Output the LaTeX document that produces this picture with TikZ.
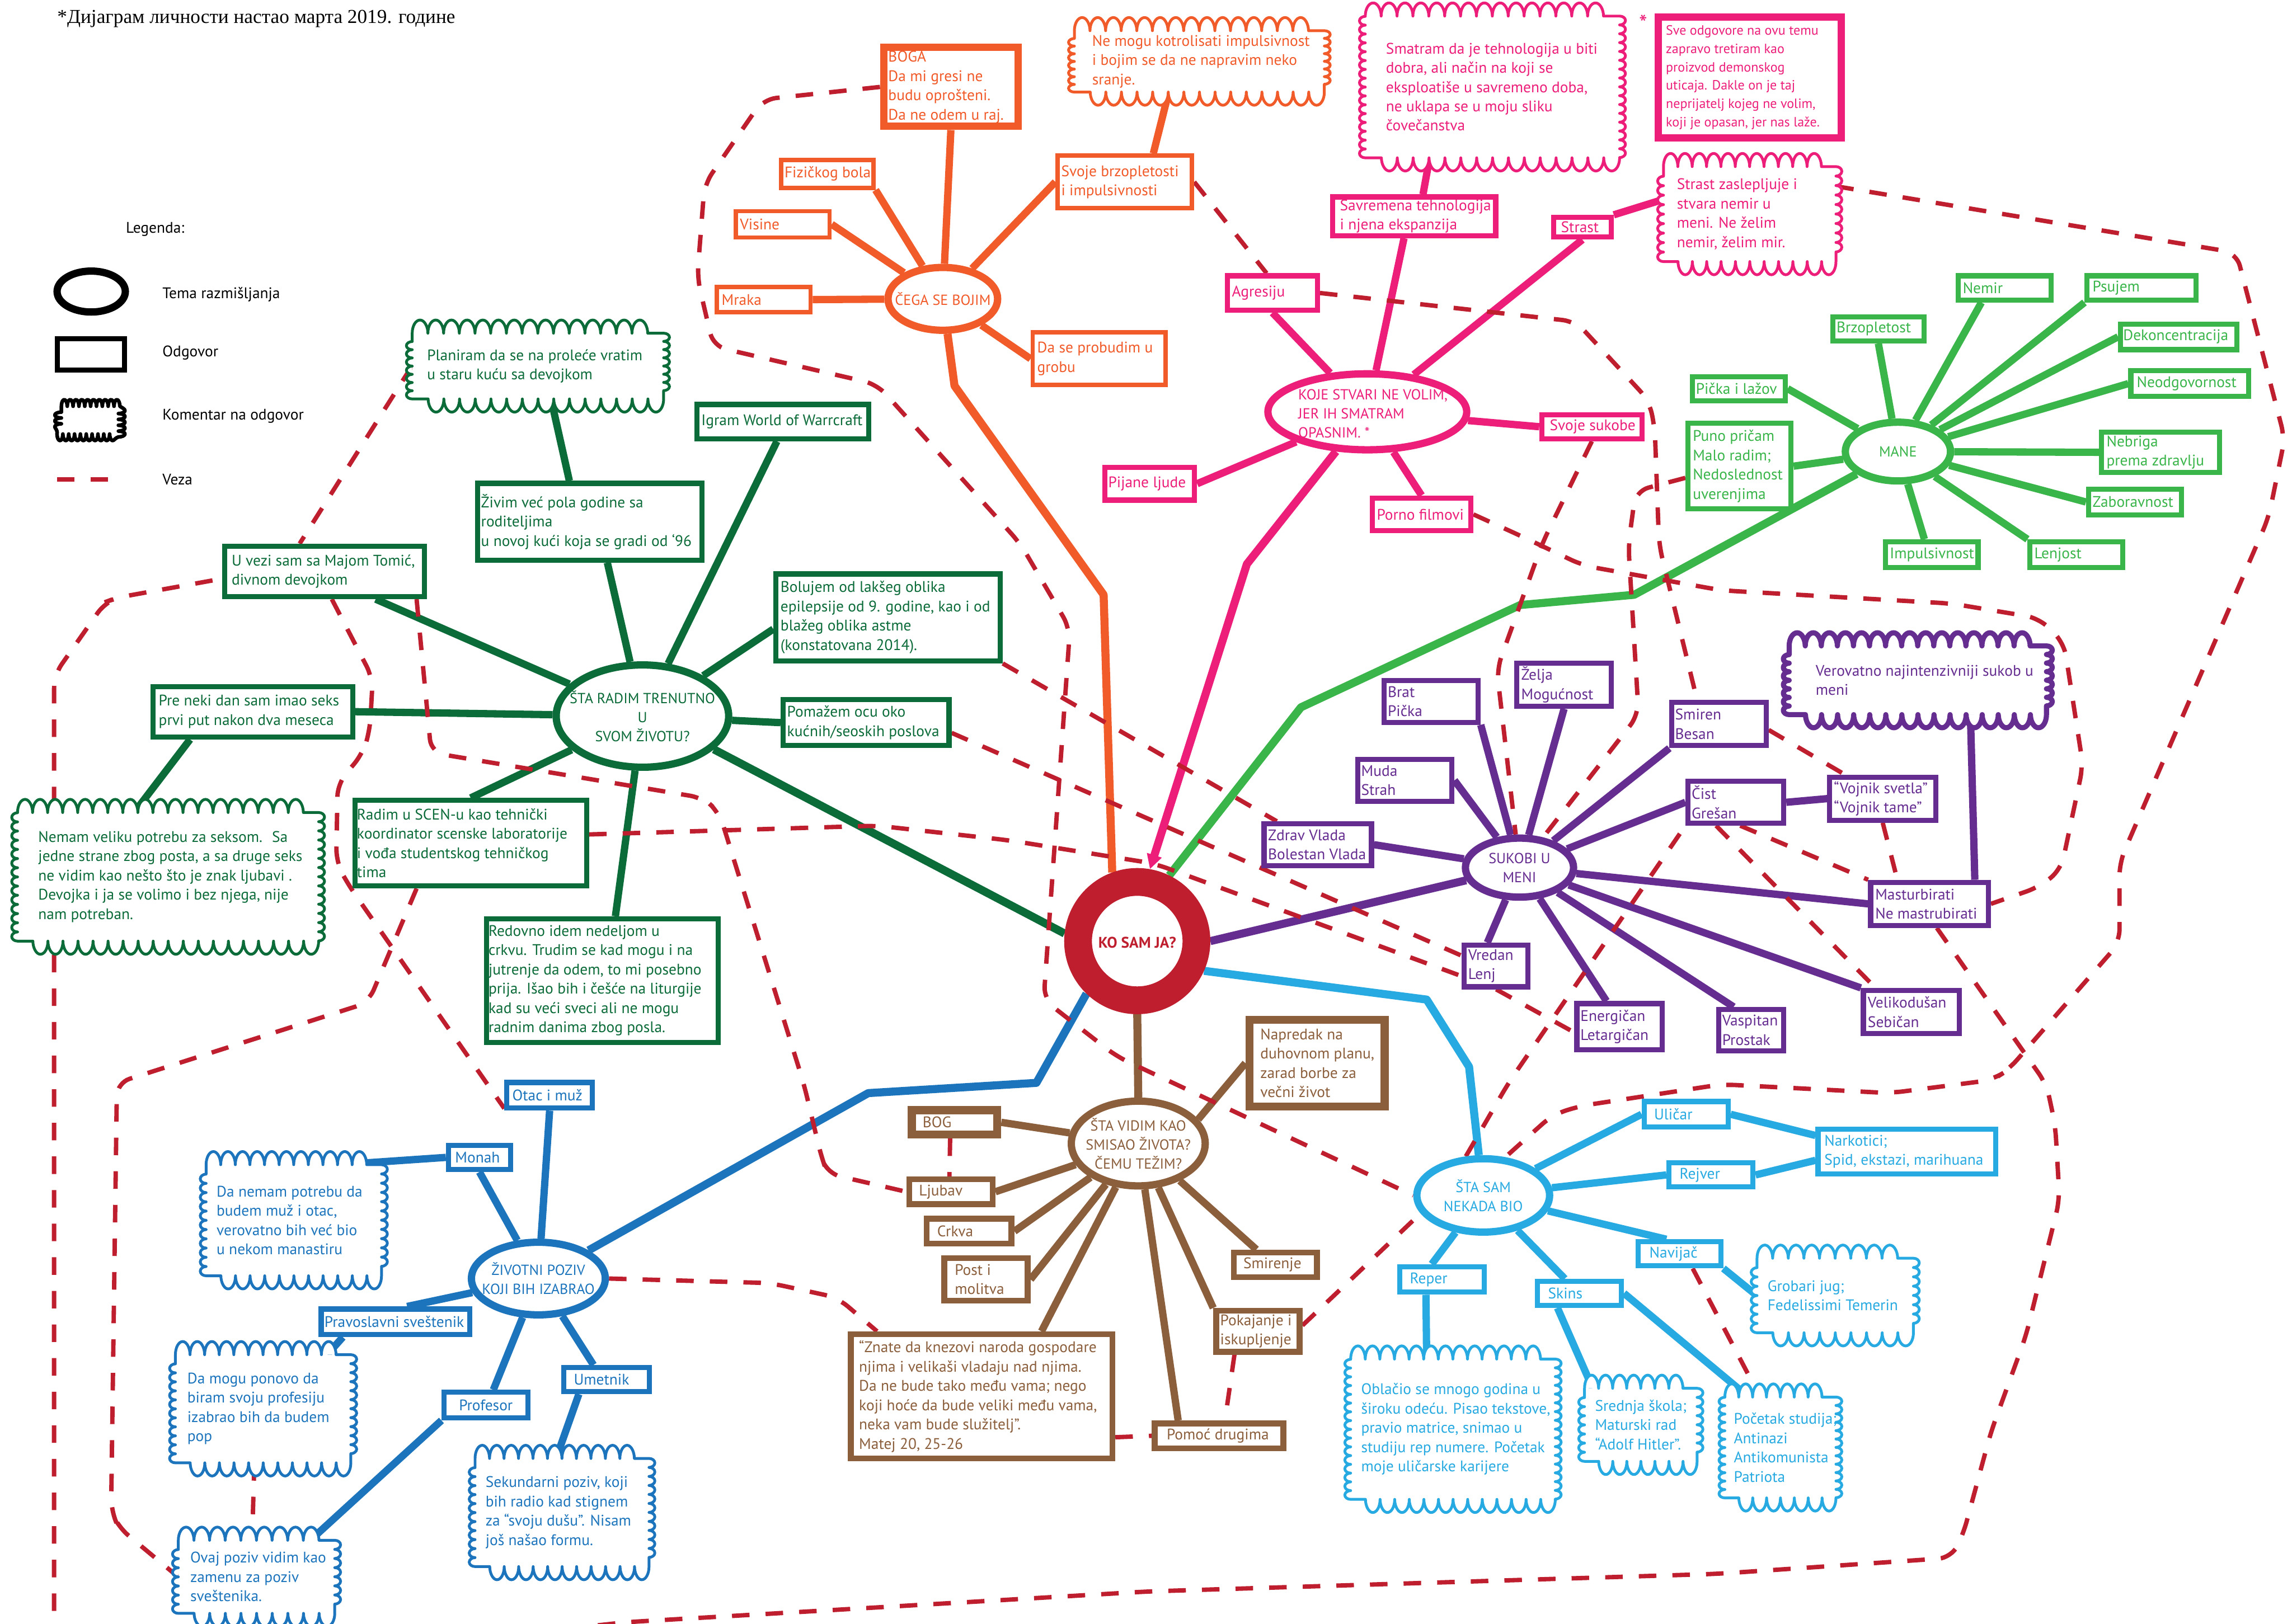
\documentclass[tikz,border=0pt]{standalone}
\usepackage{fontspec}
\setmainfont{PT Sans}
\newfontfamily\tms{Liberation Serif}
\usetikzlibrary{shapes.geometric,decorations.pathmorphing,arrows.meta}
\definecolor{kored}{HTML}{BE1E2D}
\definecolor{cOr}{HTML}{F15A29}
\definecolor{cPk}{HTML}{EC1E79}
\definecolor{cGl}{HTML}{39B54A}
\definecolor{cGd}{HTML}{0B6B39}
\definecolor{cPu}{HTML}{662D91}
\definecolor{cCy}{HTML}{27AAE1}
\definecolor{cBl}{HTML}{1C75BC}
\definecolor{cBr}{HTML}{8B5E3C}
\pgfdeclarelayer{bg}
\pgfsetlayers{bg,main}
\newcommand\tf{\fontsize{10.5}{13.2}\selectfont}
\newcommand\ef{\fontsize{10}{13}\selectfont}
\tikzset{
  txt/.style={text=#1, align=left, inner sep=0pt, font=\tf},
  cn/.style={draw=#1, line width=5pt},
  mb/.style={draw=#1, line width=5.5pt, line join=round},
  veza/.style={draw=kored, line width=3pt, dash pattern=on 12pt off 11pt, rounded corners=9pt},
}
% box: name,color,lw,x1,y1,x2,y2,padleft,text
\newcommand\bx[9]{%
  \node[draw=#2, fill=white, line width=#3pt, inner sep=0pt, minimum width={#6-#4-#3}, minimum height={#7-#5-#3}] (#1) at ({(#4+#6)/2},{(#5+#7)/2}) {};
  \node[txt=#2, anchor=west] (#1t) at ({#4+#8},{(#5+#7)/2}) {#9};}
% ellipse: name,color,cx,cy,rx,ry,text
\newcommand\el[7]{%
  \node[ellipse, draw=#2, fill=white, line width=5pt, inner sep=0pt, minimum width={2*#5-5}, minimum height={2*#6-5}] (#1) at (#3,#4) {};
  \node[txt=#2, align=center, font=\ef] (#1t) at (#3,#4) {#7};}
% cloud: [lw] name,color,x1,y1,x2,y2,textleft,text
\newcommand\cld[9][1.9]{%
  \pgfmathsetmacro\cw{#6-#4-8}\pgfmathsetmacro\ch{#7-#5-18}%
  \pgfmathsetmacro\sT{\cw/max(1,round(\cw/21))-0.02}%
  \pgfmathsetmacro\sS{\ch/max(1,round(\ch/12))-0.02}%
  \fill[white] ({#4+4},{#5+9}) rectangle ({#6-4},{#7-9});
  \path[draw=#3, fill=white, line width=#1pt, line cap=round, line join=round]
    decorate[decoration={bumps,segment length=\sT pt,amplitude=9pt}]{({#4+4},{#5+9}) -- ({#6-4},{#5+9})}
    decorate[decoration={bumps,segment length=\sS pt,amplitude=4pt}]{({#6-4},{#5+9}) -- ({#6-4},{#7-9})}
    decorate[decoration={bumps,segment length=\sT pt,amplitude=9pt}]{({#6-4},{#7-9}) -- ({#4+4},{#7-9})}
    decorate[decoration={bumps,segment length=\sS pt,amplitude=4pt}]{({#4+4},{#7-9}) -- ({#4+4},{#5+9})};
  \node[inner sep=0pt, minimum width={\cw}, minimum height={\ch}] (#2) at ({(#4+#6)/2},{(#5+#7)/2}) {};
  \node[txt=#3, anchor=west] (#2t) at (#8,{(#5+#7)/2}) {#9};}

\begin{document}
\begin{tikzpicture}[x=1pt,y=-1pt]
\useasboundingbox (0,0) rectangle (1568,1111);

% ---------- title & legend ----------
\node[anchor=west, inner sep=0pt, font=\tms\fontsize{13.5}{15}\selectfont] (title) at (39,13) {*Дијаграм личности настао марта 2019. године};
\node[txt=black, anchor=west] (leg) at (86,157) {Legenda:};
\node[ellipse, draw=black, line width=5pt, fill=white, minimum width=46.7, minimum height=28, inner sep=0pt] (legel) at (62.4,199.5) {};
\node[txt=black, anchor=west] (legelt) at (111,201.5) {Tema razmišljanja};
\node[draw=black, line width=3.5pt, fill=white, minimum width=46.2, minimum height=21.5, inner sep=0pt] (legbx) at (62.2,242.5) {};
\node[txt=black, anchor=west] (legbxt) at (111,241.5) {Odgovor};
\path[draw=black, fill=white, line width=2.5pt, line join=round, decorate, decoration={bumps, segment length=8pt, amplitude=4.5pt}]
  (42,278) -- (81,278) -- (81,297) -- (42,297) -- cycle;
\node[txt=black, anchor=west] (legclt) at (111,284.6) {Komentar na odgovor};
\coordinate (lega) at (39,328); \coordinate (legb) at (75,328);
\draw[veza] (lega) -- (legb);
\node[txt=black, anchor=west] (legvt) at (111,328) {Veza};

% ---------- center ----------
\node[circle, draw=kored, line width=19pt, fill=white, minimum size=81pt, inner sep=0pt] (ko) at (778,644) {};
\node[text=kored, inner sep=0pt, font=\bfseries\fontsize{10.5}{12}\selectfont] (kot) at (778,645) {KO SAM JA?};

% ---------- orange ----------
\el{cega}{cOr}{645}{204.5}{40}{24}{ČEGA SE BOJIM}
\bx{boga}{cOr}{5}{602}{30}{699}{89}{5.5}{BOGA\\Da mi gresi ne\\budu oprošteni.\\Da ne odem u raj.}
\bx{fiz}{cOr}{3}{533}{108}{599}{130}{3.5}{Fizičkog bola}
\bx{vis}{cOr}{3}{502}{143}{569}{164}{4}{Visine}
\bx{mra}{cOr}{3}{489}{195}{556}{215}{4.5}{Mraka}
\bx{brz}{cOr}{3}{722}{105}{817}{144}{3.8}{Svoje brzopletosti\\i impulsivnosti}
\bx{pro}{cOr}{3}{705}{226}{799}{265}{4.4}{Da se probudim u\\grobu}
\cld{nemogu}{cOr}{731}{12}{910}{72}{747}{Ne mogu kotrolisati impulsivnost\\i bojim se da ne napravim neko\\sranje.}

% ---------- pink ----------
\node[ellipse, draw=cPk, fill=white, line width=5pt, inner sep=0pt, minimum width=136, minimum height=52] (koje) at (935.4,281.8) {};
\node[txt=cPk, anchor=west, font=\ef] (kojet) at (888,283) {KOJE STVARI NE VOLIM,\\JER IH SMATRAM\\OPASNIM. *};
\bx{sav}{cPk}{3.5}{910}{133}{1025}{163}{6.5}{Savremena tehnologija\\i njena ekspanzija}
\bx{strast}{cPk}{3.5}{1061}{147}{1104}{164}{6.7}{Strast}
\bx{agr}{cPk}{3.5}{838}{187}{903}{214}{4.6}{Agresiju}
\bx{pij}{cPk}{3.5}{754}{318}{819}{344}{4}{Pijane ljude}
\bx{sukobe}{cPk}{3.5}{1053}{282}{1125}{302}{7}{Svoje sukobe}
\bx{porno}{cPk}{3.5}{937}{339}{1008}{365}{4.7}{Porno filmovi}
\node[draw=cPk, fill=white, line width=5pt, inner sep=0pt, minimum width=125, minimum height=83] (sve) at (1197,53) {};
\node[txt=cPk, anchor=west, font=\fontsize{9.2}{12.6}\selectfont] (svet) at (1139.5,53) {Sve odgovore na ovu temu\\zapravo tretiram kao\\proizvod demonskog\\uticaja. Dakle on je taj\\neprijatelj kojeg ne volim,\\koji je opasan, jer nas laže.};
\node[text=cPk, inner sep=0pt, font=\fontsize{16}{16}\selectfont] (ast) at (1124.4,16) {*};
\cld{smatram}{cPk}{930}{2}{1112}{117}{948}{Smatram da je tehnologija u biti\\dobra, ali način na koji se\\eksploatiše u savremeno doba,\\ne uklapa se u moju sliku\\čovečanstva}
\cld{strastc}{cPk}{1134}{105}{1260}{188}{1147}{Strast zaslepljuje i\\stvara nemir u\\meni. Ne želim\\nemir, želim mir.}

% ---------- light green ----------
\el{mane}{cGl}{1298.4}{309}{38.5}{22.6}{MANE}
\bx{nemir}{cGl}{3.5}{1338}{187}{1405}{207}{4.6}{Nemir}
\bx{psujem}{cGl}{3.5}{1426}{187}{1504}{207}{5.4}{Psujem}
\bx{brzop}{cGl}{3.5}{1252}{215}{1318}{235}{4.2}{Brzopletost}
\bx{dekon}{cGl}{3.5}{1449}{220}{1532}{241}{3.3}{Dekoncentracija}
\bx{neodg}{cGl}{3.5}{1456}{252}{1540}{273}{5.6}{Neodgovornost}
\bx{nebriga}{cGl}{3.5}{1436}{294}{1520}{325}{4.9}{Nebriga\\prema zdravlju}
\bx{zabor}{cGl}{3.5}{1427}{333}{1494}{354}{4.4}{Zaboravnost}
\bx{lenjost}{cGl}{3.5}{1387}{369}{1454}{390}{4.5}{Lenjost}
\bx{impuls}{cGl}{3.5}{1288}{369}{1355}{390}{4.7}{Impulsivnost}
\bx{picka}{cGl}{3.5}{1156}{256}{1223}{276}{4}{Pička i lažov}
\bx{puno}{cGl}{3.5}{1153}{288}{1227}{350}{4.9}{Puno pričam\\Malo radim;\\Nedoslednost\\uverenjima}

% ---------- dark green ----------
\el{stara}{cGd}{439.5}{490}{61.5}{37.5}{ŠTA RADIM TRENUTNO\\U\\SVOM ŽIVOTU?}
\bx{igram}{cGd}{3.5}{475}{275}{596}{302}{4.6}{Igram World of Warrcraft}
\bx{zivim}{cGd}{3.5}{325}{329}{482}{385}{3.9}{Živim već pola godine sa\\roditeljima\\u novoj kući koja se gradi od ‘96}
\bx{bolujem}{cGd}{3.5}{529}{391}{686}{454}{4.8}{Bolujem od lakšeg oblika\\epilepsije od 9. godine, kao i od\\blažeg oblika astme\\(konstatovana 2014).}
\bx{pomazem}{cGd}{3.5}{534}{477}{651}{512}{4.3}{Pomažem ocu oko\\kućnih/seoskih poslova}
\bx{uvezi}{cGd}{3.5}{152}{372}{292}{410}{6.3}{U vezi sam sa Majom Tomić,\\divnom devojkom}
\bx{preneki}{cGd}{3.5}{103}{468}{243}{506}{5.4}{Pre neki dan sam imao seks\\prvi put nakon dva meseca}
\bx{radim}{cGd}{3.5}{241}{546}{403}{608}{3}{Radim u SCEN-u kao tehnički\\koordinator scenske laboratorije\\i vođa studentskog tehničkog\\tima}
\bx{redovno}{cGd}{3.5}{331}{627}{493}{715}{3}{Redovno idem nedeljom u\\crkvu. Trudim se kad mogu i na\\jutrenje da odem, to mi posebno\\prija. Išao bih i češće na liturgije\\kad su veći sveci ali ne mogu\\radnim danima zbog posla.}
\cld{planiram}{cGd}{278}{219}{458}{282}{292}{Planiram da se na proleće vratim\\u staru kuću sa devojkom}
\cld{nemam}{cGd}{8}{547}{222}{653}{26}{Nemam veliku potrebu za seksom.~ Sa\\jedne strane zbog posta, a sa druge seks\\ne vidim kao nešto što je znak ljubavi .\\Devojka i ja se volimo i bez njega, nije\\nam potreban.}

% ---------- purple ----------
\el{sukobi}{cPu}{1039.5}{593.7}{39.5}{22.7}{SUKOBI U\\MENI}
\bx{brat}{cPu}{3.5}{945}{464}{1013}{496}{4.2}{Brat\\Pička}
\bx{zelja}{cPu}{3.5}{1036}{452}{1104}{485}{4.5}{Želja\\Mogućnost}
\bx{muda}{cPu}{3.5}{927}{518}{995}{550}{4}{Muda\\Strah}
\bx{zdrav}{cPu}{3.5}{863}{562}{940}{594}{4.3}{Zdrav Vlada\\Bolestan Vlada}
\bx{vredan}{cPu}{3.5}{1000}{645}{1047}{677}{4.2}{Vredan\\Lenj}
\bx{energ}{cPu}{3.5}{1077}{685}{1139}{720}{4}{Energičan\\Letargičan}
\bx{vaspitan}{cPu}{3.5}{1174}{689}{1222}{721}{4}{Vaspitan\\Prostak}
\bx{veliko}{cPu}{3.5}{1273}{676}{1342}{709}{4.6}{Velikodušan\\Sebičan}
\bx{mastur}{cPu}{3.5}{1278}{602}{1362}{635}{4.7}{Masturbirati\\Ne mastrubirati}
\bx{smiren}{cPu}{3.5}{1142}{479}{1210}{512}{3.8}{Smiren\\Besan}
\bx{cist}{cPu}{3.5}{1153}{533}{1222}{565}{4.1}{Čist\\Grešan}
\bx{vojnik}{cPu}{3.5}{1250}{530}{1326}{563}{4.4}{“Vojnik svetla”\\“Vojnik tame”}
\cld[3.5]{verovatno}{cPu}{1220}{433}{1404}{498}{1242}{Verovatno najintenzivniji sukob u\\meni}

% ---------- cyan ----------
\el{stasam}{cCy}{1014.7}{818}{47.9}{27.6}{ŠTA SAM\\NEKADA BIO}
\bx{ulicar}{cCy}{3.5}{1123}{752}{1184}{773}{8.4}{Uličar}
\bx{rejver}{cCy}{3.5}{1140}{794}{1201}{814}{8.8}{Rejver}
\bx{navijac}{cCy}{3.5}{1119}{848}{1179}{868}{9.2}{Navijač}
\bx{reper}{cCy}{3.5}{956}{865}{1017}{886}{8.3}{Reper}
\bx{skins}{cCy}{3.5}{1050}{875}{1111}{895}{8.9}{Skins}
\bx{nark}{cCy}{3.5}{1242}{771}{1367}{805}{5.9}{Narkotici;\\Spid, ekstazi, marihuana}
\cld{grobari}{cCy}{1198}{852}{1313}{921}{1209}{Grobari jug;\\Fedelissimi Temerin}
\cld{oblacio}{cCy}{920}{921}{1068}{1035}{931}{Oblačio se mnogo godina u\\široku odeću. Pisao tekstove,\\pravio matrice, snimao u\\studiju rep numere. Početak\\moje uličarske karijere}
\cld{srednja}{cCy}{1080}{941}{1165}{1009}{1091}{Srednja škola;\\Maturski rad\\“Adolf Hitler”.}
\cld{pocetak}{cCy}{1176}{947}{1260}{1034}{1186}{Početak studija;\\Antinazi\\Antikomunista\\Patriota}

% ---------- blue ----------
\el{zivot}{cBl}{368.3}{874.9}{48.3}{27.35}{ŽIVOTNI POZIV\\KOJI BIH IZABRAO}
\bx{otac}{cBl}{3.5}{345}{739}{407}{760}{5.3}{Otac i muž}
\bx{monah}{cBl}{3.5}{305}{782}{351}{802}{6.2}{Monah}
\bx{prav}{cBl}{3.5}{218}{894}{323}{915}{3.8}{Pravoslavni sveštenik}
\bx{prof}{cBl}{3.5}{302}{951}{363}{972}{11.8}{Profesor}
\bx{umet}{cBl}{3.5}{384}{934}{446}{954}{8.4}{Umetnik}
\cld{danemam}{cBl}{137}{788}{265}{882}{148}{Da nemam potrebu da\\budem muž i otac,\\verovatno bih već bio\\u nekom manastiru}
\cld{damogu}{cBl}{116}{918}{244}{1010}{128}{Da mogu ponovo da\\biram svoju profesiju\\izabrao bih da budem\\pop}
\cld{ovaj}{cBl}{118}{1045}{233}{1113}{130}{Ovaj poziv vidim kao\\zamenu za poziv\\sveštenika.}
\cld{sekund}{cBl}{321}{989}{448}{1081}{332}{Sekundarni poziv, koji\\bih radio kad stignem\\za “svoju dušu”. Nisam\\još našao formu.}

% ---------- brown ----------
\el{stavid}{cBr}{778.7}{782.5}{48.3}{31.5}{ŠTA VIDIM KAO\\SMISAO ŽIVOTA?\\ČEMU TEŽIM?}
\bx{napredak}{cBr}{5.5}{852}{695}{950}{760}{10}{Napredak na\\duhovnom planu,\\zarad borbe za\\večni život}
\bx{bog}{cBr}{5.5}{621}{757}{685}{779}{10}{BOG}
\bx{ljubav}{cBr}{4}{620}{805}{681}{826}{8.5}{Ljubav}
\bx{crkva}{cBr}{4}{632}{832}{694}{853}{9}{Crkva}
\bx{post}{cBr}{4}{644}{859}{705}{892}{9}{Post i\\molitva}
\bx{quote}{cBr}{4}{580}{911}{763}{1000}{7.5}{“Znate da knezovi naroda gospodare\\njima i velikaši vladaju nad njima.\\Da ne bude tako među vama; nego\\koji hoće da bude veliki među vama,\\neka vam bude služitelj”.\\Matej 20, 25-26}
\bx{pomoc}{cBr}{4}{788}{972}{880}{993}{10}{Pomoć drugima}
\bx{pokaj}{cBr}{4}{830}{895}{891}{927}{4.6}{Pokajanje i\\iskupljenje}
\bx{smirenje}{cBr}{4}{842}{855}{903}{876}{8.4}{Smirenje}

% ================= connectors (background) =================
\begin{pgfonlayer}{bg}
\fill[white] (0,0) rectangle (1568,1111);
\clip (0,0) rectangle (1568,1111);
% main branches
\draw[mb=cOr] (cega) -- (653,264) -- (755,407) -- (ko.110);
\draw[mb=cPk, -{Triangle[length=10pt,width=10pt]}] (koje) -- (853,386) -- (ko.80);
\draw[mb=cGl] (mane) -- (1118,407) -- (1040,414) -- (890,484) -- (ko.64);
\draw[mb=cGd] (stara.-25) -- (ko.174);
\draw[mb=cPu] (ko.0) -- (sukobi);
\draw[mb=cCy] (ko.-24) -- (976,684) -- (1005,730) -- (stasam);
\draw[mb=cBl] (ko.-134) -- (709,741) -- (594,748) -- (zivot);
\draw[mb=cBr] (ko.south) -- (stavid.north);
% orange
\draw[cn=cOr] (boga.south) -- (cega);
\draw[cn=cOr] (fiz.south east) -- (cega);
\draw[cn=cOr] (vis.east) -- (cega);
\draw[cn=cOr] (mra.east) -- (cega);
\draw[cn=cOr] (brz.west) -- (cega);
\draw[cn=cOr] (pro.west) -- (cega);
\draw[cn=cOr] (brz.45) -- ([xshift=-21pt]nemogu.south);
% pink
\draw[cn=cPk] ([xshift=-7pt]sav.south) -- (koje);
\draw[cn=cPk] ([xshift=6pt]sav.north) -- ([xshift=-43pt]smatram.south);
\draw[cn=cPk] (strast.south) -- (koje);
\draw[cn=cPk] (strast.north east) -- ([yshift=10pt]strastc.west);
\draw[cn=cPk] (agr.south) -- (koje);
\draw[cn=cPk] (pij.east) -- (koje);
\draw[cn=cPk] (koje) -- (sukobe.west);
\draw[cn=cPk] (porno.north) -- (koje);
% light green
\draw[cn=cGl] ([xshift=-16pt]nemir.south) -- (mane);
\draw[cn=cGl] (psujem.south west) -- (mane);
\draw[cn=cGl] (brzop.south) -- (mane);
\draw[cn=cGl] (dekon.west) -- (mane);
\draw[cn=cGl] (neodg.west) -- (mane);
\draw[cn=cGl] (nebriga.west) -- (mane);
\draw[cn=cGl] (zabor.west) -- (mane);
\draw[cn=cGl] (lenjost.north west) -- (mane);
\draw[cn=cGl] ([xshift=-5pt]impuls.north) -- (mane);
\draw[cn=cGl] (picka.east) -- (mane);
\draw[cn=cGl] (puno.east) -- (mane);
% dark green
\draw[cn=cGd] ([xshift=-4pt]igram.south) -- (stara);
\draw[cn=cGd] ([xshift=12pt]zivim.south) -- (stara);
\draw[cn=cGd] ([xshift=9pt]planiram.south) -- ([xshift=-14pt]zivim.north);
\draw[cn=cGd] ([yshift=-8pt]bolujem.west) -- (stara);
\draw[cn=cGd] (pomazem.west) -- (stara);
\draw[cn=cGd] ([xshift=35pt]uvezi.south) -- (stara);
\draw[cn=cGd] (preneki.east) -- (stara);
\draw[cn=cGd] ([xshift=-43pt]preneki.south) -- ([xshift=-23pt]nemam.north);
\draw[cn=cGd] (radim.north) -- (stara);
\draw[cn=cGd] ([xshift=9pt]redovno.north) -- (stara);
% purple
\draw[cn=cPu] (brat.south east) -- (sukobi);
\draw[cn=cPu] (zelja.south) -- (sukobi);
\draw[cn=cPu] (muda.east) -- (sukobi);
\draw[cn=cPu] (zdrav.east) -- (sukobi);
\draw[cn=cPu] ([xshift=-6pt]vredan.north) -- (sukobi);
\draw[cn=cPu] ([xshift=-9pt]energ.north) -- (sukobi);
\draw[cn=cPu] ([xshift=-12pt]vaspitan.north) -- (sukobi);
\draw[cn=cPu] (veliko.north west) -- (sukobi);
\draw[cn=cPu] (mastur.west) -- (sukobi);
\draw[cn=cPu] (smiren.south west) -- (sukobi);
\draw[cn=cPu] (cist.west) -- (sukobi);
\draw[cn=cPu] (cist.east) -- (vojnik.west);
\draw[cn=cPu] ([xshift=36pt]verovatno.south) -- ([xshift=31pt]mastur.north);
% cyan
\draw[cn=cCy] (stasam) -- (ulicar.west);
\draw[cn=cCy] (stasam) -- (rejver.west);
\draw[cn=cCy] (stasam) -- ([xshift=-9pt]navijac.north);
\draw[cn=cCy] (stasam) -- ([xshift=-7pt]reper.north);
\draw[cn=cCy] (stasam) -- ([xshift=-10pt]skins.north);
\draw[cn=cCy] (ulicar.east) -- ([yshift=11pt]nark.west);
\draw[cn=cCy] (rejver.east) -- ([yshift=-6pt]nark.west);
\draw[cn=cCy] (navijac.south east) -- (grobari.west);
\draw[cn=cCy] ([xshift=-11pt]reper.south) -- ([xshift=-18pt]oblacio.north);
\draw[cn=cCy] ([xshift=-15pt]skins.south) -- ([xshift=-33pt]srednja.north);
\draw[cn=cCy] (skins.east) -- ([xshift=-22pt]pocetak.north);
% blue
\draw[cn=cBl] (otac.south) -- (zivot);
\draw[cn=cBl] (monah.south) -- (zivot);
\draw[cn=cBl] (monah.west) -- ([xshift=34pt]danemam.north);
\draw[cn=cBl] ([xshift=8pt]prav.north) -- (zivot);
\draw[cn=cBl] ([xshift=-36pt]prav.south) -- ([xshift=44pt]damogu.north);
\draw[cn=cBl] ([xshift=5pt]prof.north) -- (zivot);
\draw[cn=cBl] (prof.south west) -- ([xshift=37pt]ovaj.north);
\draw[cn=cBl] (zivot) -- ([xshift=-9pt]umet.north);
\draw[cn=cBl] ([xshift=-19pt]umet.south) -- ([xshift=-4pt]sekund.north);
% brown
\draw[cn=cBr] (stavid.22) -- (napredak.west);
\draw[cn=cBr] (bog.east) -- (stavid);
\draw[cn=cBr] (ljubav.east) -- (stavid);
\draw[cn=cBr] (crkva.east) -- (stavid);
\draw[cn=cBr] (post.east) -- (stavid);
\draw[cn=cBr] ([xshift=41pt]quote.north) -- (stavid);
\draw[cn=cBr] ([xshift=-28pt]pomoc.north) -- (stavid);
\draw[cn=cBr] (pokaj.north west) -- (stavid);
\draw[cn=cBr] ([xshift=-13pt]smirenje.north) -- (stavid);

% dashed links
\draw[veza] (boga.west) -- (522,68) -- (482,126) -- (477,190) -- (488,237) -- (600,263) -- (698,372) -- (732,430) -- (714,684) -- (764,723) -- (stasam.west);
\draw[veza] (brz.east) -- ([xshift=-4pt]agr.north);
\draw[veza] (agr.east) -- (1078,220) -- (1128,274) -- (1132,292) -- (1135,373) -- ([xshift=-15pt]smiren.north);
\draw[veza] ([yshift=-8pt]puno.west) -- (1119,336) -- (1114,373) -- (1121,489) -- (sukobi);
\draw[veza] (sukobe.south) -- (1055,372) -- (1024,458) -- (sukobi);
\draw[veza] (porno.east) -- (1041,367) -- (1083,387) -- (1178,404) -- (1335,413) -- (1395,423) -- (1412,440) -- (1425,524) -- (1410,595) -- (1395,607) -- (mastur.east);
\draw[veza] ([yshift=19pt]strastc.east) -- (1530,173) -- (1563,300) -- (1552,354) -- (1450,590) -- (1450,645) -- (1374,732) -- (1363,739) -- (1293,748) -- (1178,742) -- (1080,757) -- (1062,763) -- (stasam.60);
\draw[veza] ([xshift=5pt]mastur.south) -- (1400,742) -- (1406,770) -- (1409,821) -- (1386,914) -- (1362,980) -- (1343,1050) -- (1335,1066) -- (1174,1077) -- (786,1089) -- (429,1110) -- (200,1135) -- (37,1135) -- (37,462) -- (72,412) -- (80,409) -- ([yshift=-5pt]uvezi.west);
\draw[veza] (planiram.west) -- ([xshift=-17pt]uvezi.north);
\draw[veza] ([xshift=63pt]uvezi.south) -- (295,515) -- (481,546) -- (492,556) -- (550,742) -- (562,792) -- (566,803) -- (ljubav.west);
\draw[veza] ([xshift=5pt]uvezi.south) -- (255,464) -- (253,500) -- (248,516) -- (231,536) -- (230,590) -- (238,605) -- ([yshift=-9pt]otac.west);
\draw[veza] ([xshift=-37pt]radim.south) -- (252,686) -- (80,741) -- (76,1034) -- (81,1045) -- (ovaj.west);
\draw[veza] ([yshift=6pt]radim.east) -- (600,565) -- (690,575) -- (790,591) -- ([yshift=-7pt]vredan.west);
\draw[veza] ([yshift=-7pt]pomazem.east) -- ([yshift=7pt]vredan.west);
\draw[veza] (bolujem.south east) -- ([xshift=-28pt]zdrav.north);
\draw[veza] (vredan.south) -- ([yshift=-4pt]energ.west);
\draw[veza] (stasam.114) -- (1032,741) -- (cist.south west);
\draw[veza] ([yshift=4pt]pokaj.east) -- (stasam.196);
\draw[veza] ([xshift=-16pt]pokaj.south) -- ([xshift=4pt]pomoc.north);
\draw[veza] ([yshift=-28pt]quote.east) -- (pomoc.west);
\draw[veza] (zivot.east) -- (527,878) -- (573,888) -- ([xshift=20pt]quote.north west);
\draw[veza] ([xshift=-3pt]bog.south) -- ([xshift=-1pt]ljubav.north);
\draw[veza] ([xshift=-6pt]damogu.south) -- ([xshift=-3pt]ovaj.north);
\draw[veza] ([xshift=9pt]navijac.south) -- ([xshift=-14pt]pocetak.north);
\draw[veza] ([xshift=-13.5pt]cist.south) -- ([xshift=10pt]veliko.north west);
\draw[veza] ([xshift=3pt]cist.south) -- (mastur.north west);
\draw[veza] ([yshift=-4pt]smiren.east) -- ([xshift=12pt]vojnik.north west);
\draw[veza] (vojnik.south) -- ([xshift=-22pt]mastur.north);
\end{pgfonlayer}
\end{tikzpicture}
\end{document}
